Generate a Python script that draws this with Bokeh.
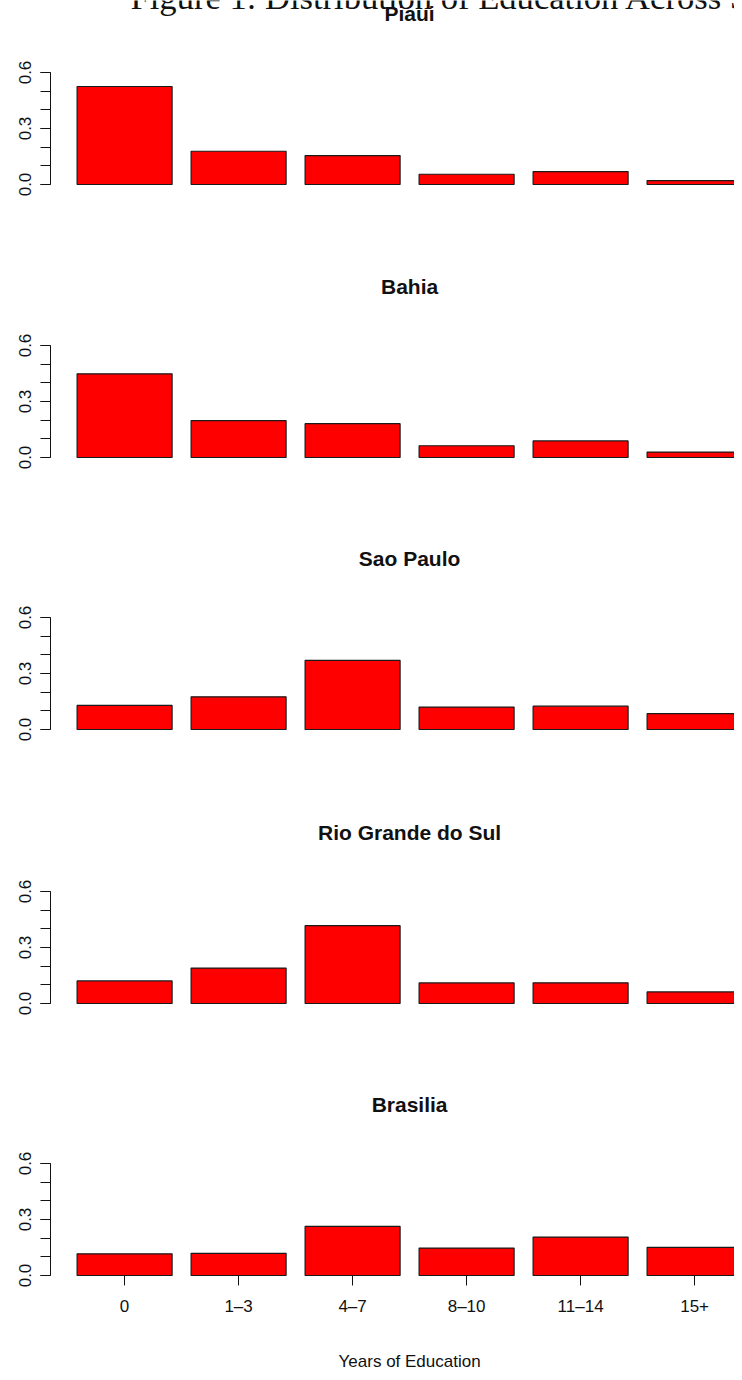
from bokeh.plotting import figure
from bokeh.layouts import column
from bokeh.models import (Range1d, LinearAxis, SingleIntervalTicker, FixedTicker,
                          PrintfTickFormatter, Label)
from bokeh.embed import file_html
from bokeh.resources import INLINE

# ---- data ----
categories = ["0", "1\u20133", "4\u20137", "8\u201310", "11\u201314", "15+"]
states = ["Piaui", "Bahia", "Sao Paulo", "Rio Grande do Sul", "Brasilia"]
piaui = [0.525, 0.178, 0.155, 0.055, 0.069, 0.021]
bahia = [0.448, 0.198, 0.181, 0.063, 0.089, 0.029]
sao_paulo = [0.129, 0.175, 0.370, 0.120, 0.125, 0.085]
rio_grande_do_sul = [0.121, 0.190, 0.417, 0.110, 0.111, 0.062]
brasilia = [0.116, 0.119, 0.263, 0.147, 0.206, 0.151]
series = [piaui, bahia, sao_paulo, rio_grande_do_sul, brasilia]
y_top = 0.6
y_tick_interval = 0.3
main_title = "Figure 1: Distribution of Education Across States"
x_label = "Years of Education"

# ---- layout constants (R barplot style: bar width 1, space 0.2) ----
BAR_W = 1.0
SPACE = 0.2
centers = [SPACE + BAR_W / 2 + i * (BAR_W + SPACE) for i in range(len(categories))]
XMIN = -0.08                 # left edge of plotting region
XMID = 3.7                   # centre of the full plotting region
X_PX = 95.0                  # pixels per x unit
Y_PX = 112.0 / y_top         # pixels per y unit
W = 734
LEFT = 50
FRAME_W = W - LEFT
heights = [265, 273, 273, 273, 288]
top_off = [72, 80, 79, 80, 79]    # pixel offset of the 0.6 line from figure top

SANS = "Liberation Sans"
INK = "#111111"

figs = []
n = len(states)
for k, (name, vals) in enumerate(zip(states, series)):
    H = heights[k]
    t = top_off[k]
    y_end = y_top + t / Y_PX
    y_start = y_top - (H - t) / Y_PX
    p = figure(width=W, height=H,
               x_range=Range1d(XMIN, XMIN + FRAME_W / X_PX),
               y_range=Range1d(y_start, y_end),
               output_backend="svg", toolbar_location=None,
               x_axis_location=None, y_axis_location=None,
               min_border_left=LEFT, min_border_right=0,
               min_border_top=0, min_border_bottom=0)
    p.outline_line_color = None
    p.xgrid.visible = False
    p.ygrid.visible = False
    p.background_fill_color = "white"
    p.border_fill_color = "white"

    p.vbar(x=centers, width=BAR_W, top=vals, bottom=0,
           fill_color="#ff0000", line_color="#1a1a1a", line_width=1.2)

    yax = LinearAxis(ticker=SingleIntervalTicker(interval=y_tick_interval, num_minor_ticks=3),
                     formatter=PrintfTickFormatter(format="%.1f"),
                     bounds=(0, y_top))
    yax.axis_line_color = INK
    yax.major_tick_line_color = INK
    yax.minor_tick_line_color = INK
    yax.major_tick_out = 10
    yax.major_tick_in = 0
    yax.minor_tick_out = 10
    yax.minor_tick_in = 0
    yax.major_label_orientation = "vertical"
    yax.major_label_text_font = SANS
    yax.major_label_text_font_size = "17px"
    yax.major_label_text_color = INK
    yax.major_label_standoff = 10
    p.add_layout(yax, "left")

    if k == n - 1:
        xax = LinearAxis(ticker=FixedTicker(ticks=centers, minor_ticks=[]),
                         major_label_overrides={c: lab for c, lab in zip(centers, categories)},
                         fixed_location=0)
        xax.axis_line_color = None
        xax.major_tick_line_color = INK
        xax.major_tick_out = 10
        xax.major_tick_in = 0
        xax.minor_tick_line_color = None
        xax.major_label_text_font = SANS
        xax.major_label_text_font_size = "17px"
        xax.major_label_text_color = INK
        xax.major_label_standoff = 11
        p.add_layout(xax, "below")
        p.add_layout(Label(x=XMID, y=-86 / Y_PX, text=x_label,
                           text_font=SANS, text_font_size="17px",
                           text_color=INK, text_align="center",
                           text_baseline="middle"))

    p.add_layout(Label(x=XMID, y=y_top + 59 / Y_PX, text=name,
                       text_font=SANS, text_font_size="21px",
                       text_font_style="bold", text_color=INK,
                       text_align="center", text_baseline="middle"))
    if k == 0:
        # main title: only its lower part lies inside the picture, as in the original
        p.add_layout(Label(x=XMIN + 80 / X_PX, y=y_top + 76 / Y_PX, text=main_title,
                           text_font="Liberation Serif", text_font_size="34.6px",
                           text_color=INK, text_align="left",
                           text_baseline="alphabetic"))
    figs.append(p)

layout = column(*figs, spacing=0)
open("out.html", "w").write(file_html(layout, INLINE))
